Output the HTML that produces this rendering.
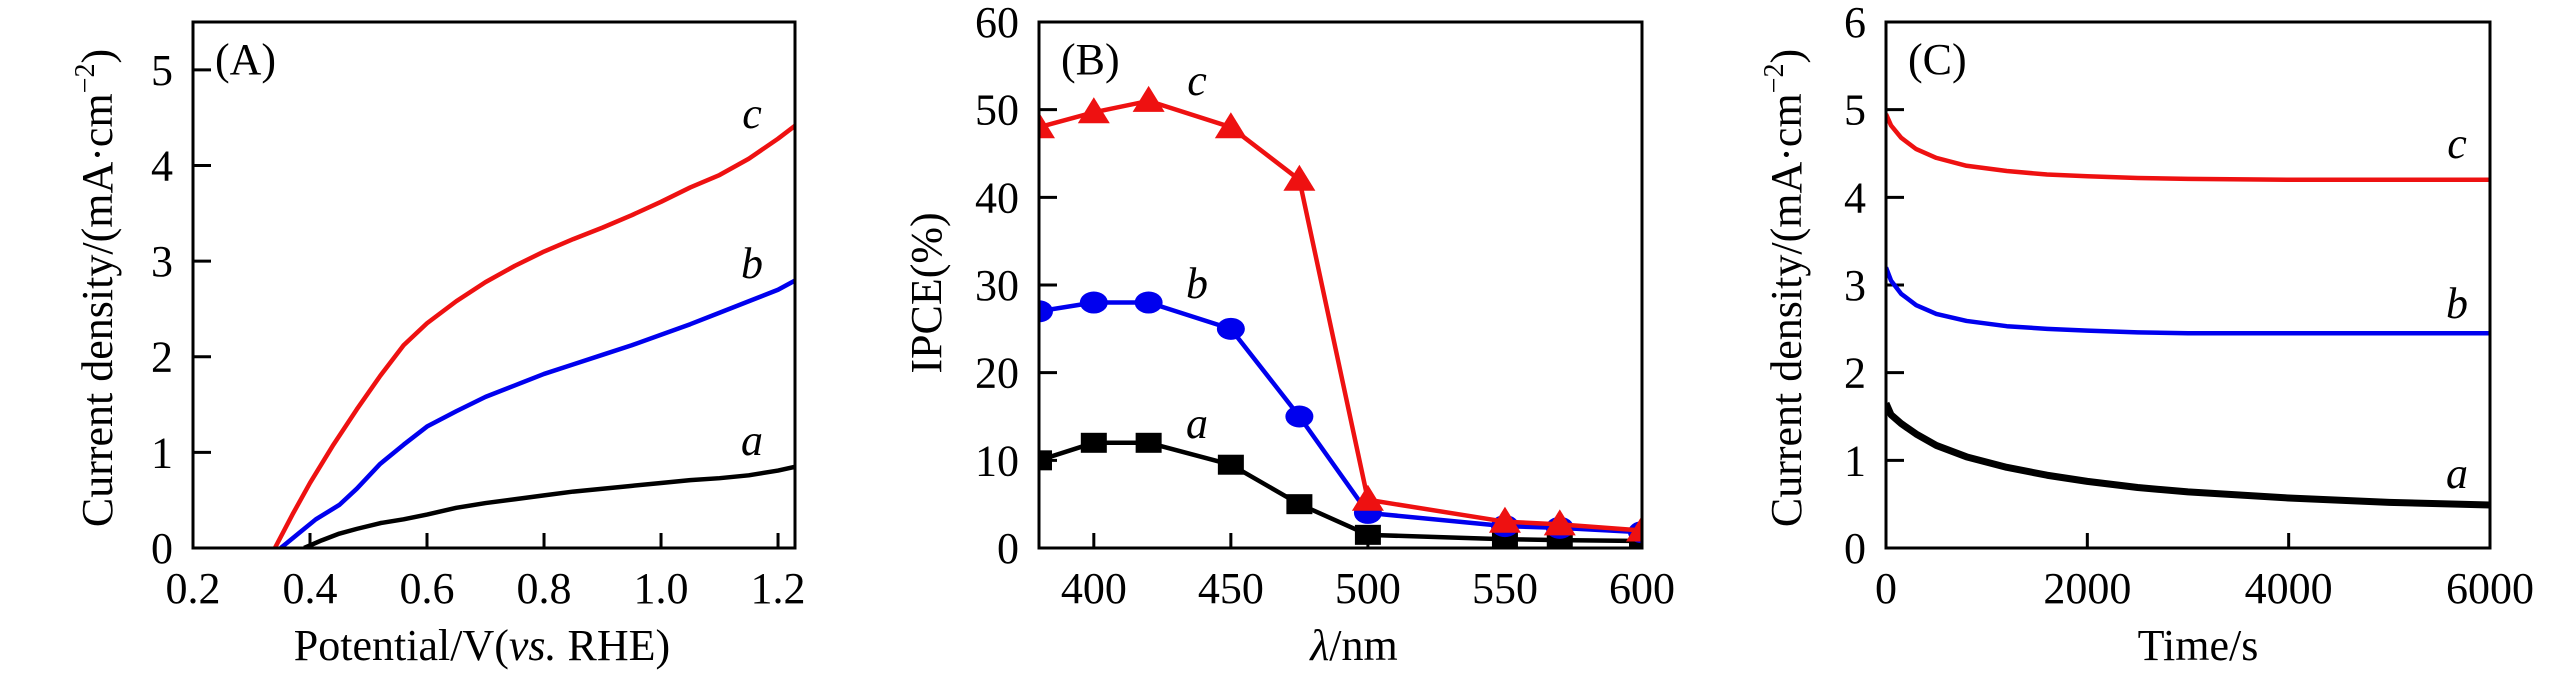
<!DOCTYPE html>
<html><head><meta charset="utf-8">
<style>
html,body{margin:0;padding:0;background:#fff;}
svg{display:block;font-family:"Liberation Serif","Times New Roman",serif;}
</style></head>
<body>
<svg id="fig" width="2567" height="683" viewBox="0 0 2567 683" xmlns="http://www.w3.org/2000/svg"></svg>
<script>
// ---------- Panel A data ----------
const aX = [0.39,0.42,0.45,0.48,0.52,0.56,0.6,0.65,0.7,0.75,0.8,0.85,0.9,0.95,1.0,1.05,1.1,1.15,1.2,1.23];
const aA = [0,0.08,0.15,0.2,0.26,0.3,0.35,0.42,0.47,0.51,0.55,0.59,0.62,0.65,0.68,0.71,0.73,0.76,0.81,0.85];
const bX = [0.35,0.38,0.41,0.45,0.48,0.52,0.56,0.6,0.65,0.7,0.75,0.8,0.85,0.9,0.95,1.0,1.05,1.1,1.15,1.2,1.23];
const bA = [0,0.15,0.3,0.45,0.62,0.88,1.08,1.27,1.43,1.58,1.7,1.82,1.92,2.02,2.12,2.23,2.34,2.46,2.58,2.7,2.8];
const cX = [0.34,0.37,0.4,0.44,0.48,0.52,0.56,0.6,0.65,0.7,0.75,0.8,0.85,0.9,0.95,1.0,1.05,1.1,1.15,1.2,1.23];
const cA = [0,0.35,0.68,1.08,1.45,1.8,2.12,2.35,2.58,2.78,2.95,3.1,3.23,3.35,3.48,3.62,3.77,3.9,4.07,4.28,4.42];
const aXTicks = [0.2,0.4,0.6,0.8,1.0,1.2];
const aYTicks = [0,1,2,3,4,5];
// ---------- Panel B data ----------
const wl = [380,400,420,450,475,500,550,570,600];
const ipceA = [10,12,12,9.5,5,1.5,1,0.9,0.8];
const ipceB = [27,28,28,25,15,4,2.5,2.3,1.8];
const ipceC = [48,49.7,51,48,42,5.5,3,2.7,2];
const bXTicks = [400,450,500,550,600];
const bYTicks = [0,10,20,30,40,50,60];
// ---------- Panel C data ----------
const tT = [0,50,150,300,500,800,1200,1600,2000,2500,3000,4000,5000,6000];
const tA = [1.65,1.52,1.42,1.3,1.17,1.04,0.92,0.83,0.76,0.69,0.64,0.57,0.52,0.49];
const tB = [3.2,3.05,2.9,2.77,2.67,2.59,2.53,2.5,2.48,2.46,2.45,2.45,2.45,2.45];
const tC = [4.95,4.82,4.68,4.55,4.45,4.36,4.3,4.26,4.24,4.22,4.21,4.2,4.2,4.2];
const cXTicks = [0,2000,4000,6000];
const cYTicks = [0,1,2,3,4,5,6];

const NS="http://www.w3.org/2000/svg";
const svg=document.getElementById('fig');
function el(tag,attrs,parent){const e=document.createElementNS(NS,tag);for(const k in attrs)e.setAttribute(k,attrs[k]);(parent||svg).appendChild(e);return e;}
function txt(str,attrs,parent){const t=el('text',attrs,parent);t.textContent=str;return t;}

function panel(cfg){
  const g=el('g',{});
  
  
  const sx=v=>cfg.L+(v-cfg.x0)/(cfg.x1-cfg.x0)*(cfg.R-cfg.L);
  const sy=v=>cfg.B-(v-cfg.y0)/(cfg.y1-cfg.y0)*(cfg.B-cfg.T);
  cfg.xt.forEach(v=>{
    const x=sx(v);
    if(x>cfg.L+2&&x<cfg.R-2){const tk=el('line',{x1:x,x2:x,y1:cfg.B,y2:cfg.B-15,stroke:'#000','stroke-width':3},g);
    }
    const lb=txt(cfg.fmtX(v),{x:x,y:cfg.B+55,'font-size':44,'text-anchor':'middle'},g);
    
  });
  cfg.yt.forEach(v=>{
    const y=sy(v);
    if(y<cfg.B-2&&y>cfg.T+2){const tk=el('line',{x1:cfg.L,x2:cfg.L+18,y1:y,y2:y,stroke:'#000','stroke-width':3},g);
    }
    const lb=txt(String(v),{x:cfg.L-20,y:y+15,'font-size':44,'text-anchor':'end'},g);
    
  });
  const cid='clip'+cfg.name;
  const cp=el('clipPath',{id:cid},g);el('rect',{x:cfg.L,y:cfg.T,width:cfg.R-cfg.L,height:cfg.B-cfg.T},cp);
  const plot=el('g',{'clip-path':'url(#'+cid+')'},g);
  cfg.series.forEach(s=>{
    const pts=s.x.map((v,i)=>sx(v)+','+sy(s.y[i])).join(' ');
    const pl=el('polyline',{points:pts,fill:'none',stroke:s.color,'stroke-width':s.w||4.5,'stroke-linejoin':'round'},plot);
    
    if(s.marker){
      s.x.forEach((v,i)=>{
        const x=sx(v),y=sy(s.y[i]);let m;
        if(s.marker==='square')m=el('rect',{x:x-13,y:y-10,width:26,height:20,fill:s.color},plot);
        else if(s.marker==='circle')m=el('ellipse',{cx:x,cy:y,rx:14,ry:11,fill:s.color},plot);
        else m=el('polygon',{points:`${x},${y-15} ${x-16},${y+11} ${x+16},${y+11}`,fill:s.color},plot);
        
      });
    }
    const lb=txt(s.label,{x:s.lx,y:s.ly,'font-size':44,'font-style':'italic','text-anchor':'middle'},g);
    
  });
  const fr=el('rect',{x:cfg.L,y:cfg.T,width:cfg.R-cfg.L,height:cfg.B-cfg.T,fill:'none',stroke:'#000','stroke-width':3},g);
  
  const pt=txt(cfg.tag,{x:cfg.L+22,y:cfg.T+52,'font-size':44},g);
  
  const xl=el('text',{x:cfg.xlx,y:cfg.B+112,'font-size':44,'text-anchor':'middle'},g);
  xl.innerHTML=cfg.xlabel;
  
  const yl=el('text',{x:0,y:0,'font-size':44,'text-anchor':'middle',transform:`translate(${cfg.ylx},${cfg.yly}) rotate(-90)`},g);
  yl.innerHTML=cfg.ylabel;
  
}
const cdLabel='Current density/(mA·cm<tspan font-size="28" dy="-18">−2</tspan><tspan dy="18">)</tspan>';
panel({name:'panel-a',tag:'(A)',L:193,R:795,T:22,B:548,x0:0.2,x1:1.229,y0:0,y1:5.5,
  xt:aXTicks,yt:aYTicks,fmtX:v=>v.toFixed(1),
  xlabel:'Potential/V(<tspan font-style="italic">vs.</tspan> RHE)',xlx:482,
  ylabel:cdLabel,ylx:112,yly:288,
  series:[{name:'curve-a',x:aX,y:aA,color:'#000',label:'a',lx:752,ly:455},
          {name:'curve-b',x:bX,y:bA,color:'#0000ee',label:'b',lx:752,ly:278},
          {name:'curve-c',x:cX,y:cA,color:'#ee1111',label:'c',lx:752,ly:128}]});
panel({name:'panel-b',tag:'(B)',L:1039,R:1642,T:22,B:548,x0:380,x1:600,y0:0,y1:60,
  xt:bXTicks,yt:bYTicks,fmtX:v=>String(v),
  xlabel:'<tspan font-style="italic">λ</tspan>/nm',xlx:1354,
  ylabel:'IPCE(%)',ylx:941,yly:293,
  series:[{name:'ipce-a',x:wl,y:ipceA,color:'#000',marker:'square',label:'a',lx:1197,ly:438},
          {name:'ipce-b',x:wl,y:ipceB,color:'#0000ee',marker:'circle',label:'b',lx:1197,ly:298},
          {name:'ipce-c',x:wl,y:ipceC,color:'#ee1111',marker:'triangle',label:'c',lx:1197,ly:95}]});
panel({name:'panel-c',tag:'(C)',L:1886,R:2490,T:22,B:548,x0:0,x1:6000,y0:0,y1:6,
  xt:cXTicks,yt:cYTicks,fmtX:v=>String(v),
  xlabel:'Time/s',xlx:2198,
  ylabel:cdLabel,ylx:1801,yly:288,
  series:[{name:'it-a',x:tT,y:tA,color:'#000',w:7,label:'a',lx:2457,ly:488},
          {name:'it-b',x:tT,y:tB,color:'#0000ee',label:'b',lx:2457,ly:318},
          {name:'it-c',x:tT,y:tC,color:'#ee1111',label:'c',lx:2457,ly:158}]});
</script>
</body></html>
